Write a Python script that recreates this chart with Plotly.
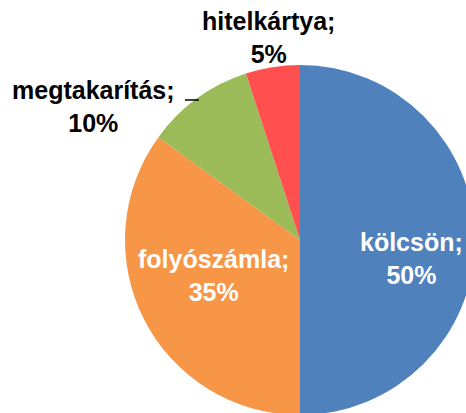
import plotly.graph_objects as go

labels = ["kölcsön", "folyószámla", "megtakarítás", "hitelkártya"]
values = [50, 35, 10, 5]
colors = ["#4F81BD", "#F79646", "#9BBB59", "#FF4F4F"]
text_colors = ["white", "white", "black", "black"]

W, H = 500, 450
FONT = "Liberation Sans, Arial, sans-serif"

fig = go.Figure(go.Pie(
    labels=labels,
    values=values,
    sort=False,
    direction="clockwise",
    rotation=0,
    marker=dict(colors=colors, line=dict(width=0)),
    textinfo="none",
    automargin=False,
    showlegend=False,
    hoverinfo="label+percent",
    domain=dict(x=[125 / W, 475 / W], y=[(H - 65 - 350) / H, (H - 65) / H]),
))

total = sum(values)
# label placement (pixel centres / anchors) in figure pixels
label_pos = [
    dict(px=411, py=258, xanchor="center"),
    dict(px=213, py=275, xanchor="center"),
    dict(px=177, py=107, xanchor="right"),
    dict(px=268, py=38, xanchor="center"),
]
for lab, val, col, p in zip(labels, values, text_colors, label_pos):
    fig.add_annotation(
        x=p["px"] / W, y=1 - p["py"] / H, xref="paper", yref="paper",
        text=f"{lab};<br>{round(100 * val / total)}%",
        showarrow=False, xanchor=p["xanchor"], yanchor="middle", align="center",
        font=dict(family=FONT, size=25, color=col, weight="bold"),
    )

# short leader line next to the megtakarítás label
fig.add_shape(type="line", xref="paper", yref="paper",
              x0=185 / W, x1=199 / W, y0=1 - 100 / H, y1=1 - 100 / H,
              line=dict(color="black", width=1.5))

fig.update_layout(
    width=W, height=H,
    margin=dict(l=0, r=0, t=0, b=0),
    paper_bgcolor="white",
    plot_bgcolor="white",
)

fig.write_html(
    "out.html",
    config={"displayModeBar": False},
    post_script="document.body.style.margin='0';document.body.style.overflow='hidden';document.documentElement.style.overflow='hidden';",
)
